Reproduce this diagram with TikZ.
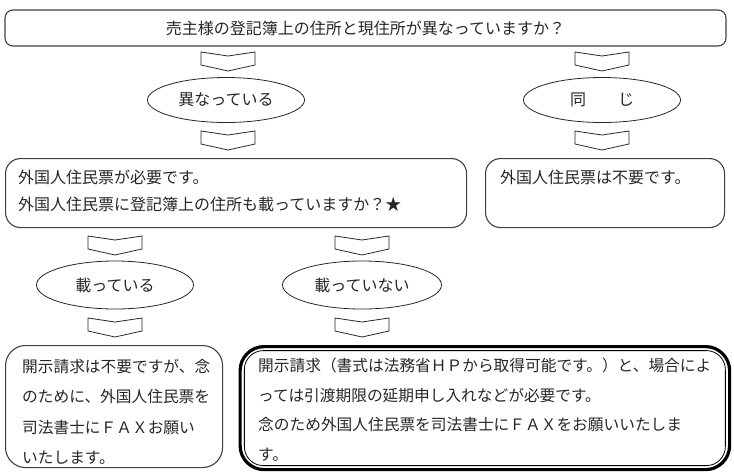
\documentclass[tikz,border=0pt]{standalone}
\usepackage{fontspec}
\setmainfont{Noto Sans CJK JP}
\usetikzlibrary{shapes.geometric,positioning}

\newcommand{\chevron}[1]{\draw[chev] (#1) ++(-27,0) -- ++(27,4) -- ++(27,-4) -- ++(0,13) -- ++(-27,6) -- ++(-27,-6) -- cycle;}

\begin{document}
\begin{tikzpicture}[x=1pt,y=-1pt,font=\fontsize{16}{27}\selectfont,text=black!85,
box/.style={draw=black!75,line width=1.1pt,rounded corners=#1,inner sep=0pt},box/.default=14pt,
oval/.style={ellipse,draw=black!85,line width=0.8pt,minimum width=157,minimum height=45,inner sep=0pt},
txt/.style={align=left,inner sep=0pt,anchor=north west},
chev/.style={draw=black!85,line width=0.8pt,line join=miter,fill=white}]
\useasboundingbox (0,0) rectangle (734,472);

\node[box=8pt,minimum width=721,minimum height=36] (q) at (365.5,28) {売主様の登記簿上の住所と現住所が異なっていますか？};
\node[oval] (d) at (226,100) {異なっている};
\node[oval] (s) at (602,100) {同　　じ};

\node[box=15pt,minimum width=461,minimum height=69,anchor=north west] (n) at (5,158) {};
\node[txt] (nt) at (18,170) {外国人住民票が必要です。\\外国人住民票に登記簿上の住所も載っていますか？★};
\node[box=15pt,minimum width=239,minimum height=69,anchor=north west] (u) at (485,158) {};
\node[txt] (ut) at (500,170) {外国人住民票は不要です。};

\node[oval,minimum height=48] (y) at (115,285) {載っている};
\node[oval,minimum height=48,minimum width=159] (x) at (362,285) {載っていない};

\node[box=20pt,minimum width=217,minimum height=122,anchor=north west] (a) at (5,345) {};
\node[txt,font=\fontsize{15.7}{30.5}\selectfont] (at) at (22,359) {開示請求は不要ですが、念\\のために、外国人住民票を\\司法書士にＦＡＸお願い\\いたします。};
\node[draw=black,line width=3.2pt,rounded corners=24pt,minimum width=489.5,minimum height=123,anchor=north west,inner sep=0pt] (b) at (238.5,345) {};
\node[draw=black,line width=0.8pt,rounded corners=19pt,minimum width=481,minimum height=115,inner sep=0pt] (bi) at (b.center) {};
\node[txt,font=\fontsize{15.7}{29.5}\selectfont] (bt) at (258,358) {開示請求（書式は法務省ＨＰから取得可能です。）と、場合によ\\っては引渡期限の延期申し入れなどが必要です。\\念のため外国人住民票を司法書士にＦＡＸをお願いいたしま\\す。};

\coordinate (k1) at (228,52);
\coordinate (k2) at (602,52);
\coordinate (k3) at (228,131);
\coordinate (k4) at (602,131);
\coordinate (k5) at (115,236);
\coordinate (k6) at (362,236);
\coordinate (k7) at (115,318);
\coordinate (k8) at (362,318);
\foreach \k in {k1,k2,k3,k4,k5,k6,k7,k8} {\chevron{\k}}
\end{tikzpicture}
\end{document}
